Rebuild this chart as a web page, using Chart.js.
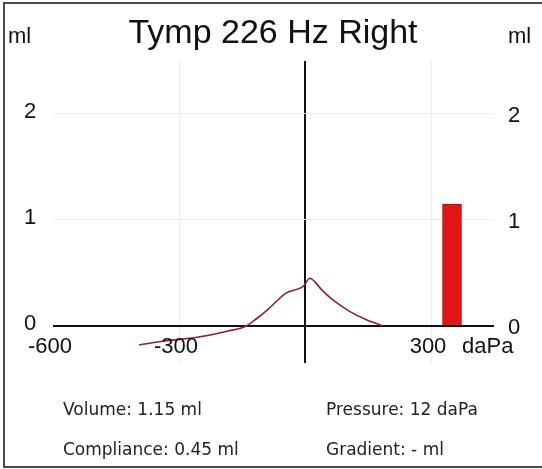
<!DOCTYPE html>
<html>
<head>
<meta charset="utf-8">
<script src="https://cdn.jsdelivr.net/npm/chart.js@4.4.1/dist/chart.umd.min.js"></script>
<style>
  html, body { margin: 0; background: #fff; overflow: hidden; }
  .marco {
    position: absolute; left: 3px; top: 2px;
    width: 539px; height: 466px;
    border: 2px solid #4a4a4a; border-right: none;
    box-sizing: border-box;
  }
  #tymp { position: absolute; left: 0; top: 0; }
</style>
</head>
<body>
<div class="marco"></div>
<canvas id="tymp" width="542" height="469"></canvas>
<script>
// curva del timpanograma (daPa / ml)
const pressure = [-395, -330, -260, -185, -140, -115, -90, -45, -5, 12, 20, 40, 65, 105, 145, 185];
const compliance = [-0.18, -0.14, -0.11, -0.05, 0, 0.07, 0.15, 0.31, 0.37, 0.45, 0.43, 0.34, 0.25, 0.14, 0.06, 0.0];

// barra de volumen
const volumePressure = [350];
const volumeValue = [1.15];

const xTickValues = [-600, -300, 300];
const xTickLabels = ['-600', '-300', '300'];
const yTickValues = [0, 1, 2];
const yTickLabels = ['0', '1', '2'];
const gridX = [-300, 0, 300];
const gridY = [0, 1, 2];

const title = 'Tymp 226 Hz Right';
const infoLeft = ['Volume: 1.15 ml', 'Compliance: 0.45 ml'];
const infoRight = ['Pressure: 12 daPa', 'Gradient: - ml'];

const curve = pressure.map((p, i) => ({ x: p, y: compliance[i] }));
const bars = volumePressure.map((p, i) => ({ x: p, y: volumeValue[i] }));

// textos dibujados sobre el canvas
const textPlugin = {
  id: 'tympText',
  afterDraw(chart) {
    const ctx = chart.ctx;
    const xs = chart.scales.x;
    const ys = chart.scales.y;
    ctx.save();
    ctx.fillStyle = '#111';
    ctx.textBaseline = 'middle';

    ctx.font = '34px "Liberation Sans", Arial, sans-serif';
    ctx.textAlign = 'center';
    ctx.fillText(title, 273, 34);

    ctx.font = '22px "Liberation Sans", Arial, sans-serif';
    ctx.textAlign = 'left';
    ctx.fillText('ml', 8, 37);
    ctx.fillText('ml', 508, 37);

    yTickValues.forEach((v, i) => {
      const py = ys.getPixelForValue(v);
      ctx.fillText(yTickLabels[i], 24, py - 2);
      ctx.fillText(yTickLabels[i], 508, py + 2);
    });

    ctx.textAlign = 'center';
    xTickValues.forEach((v, i) => {
      ctx.fillText(xTickLabels[i], xs.getPixelForValue(v) - 3, 347);
    });
    ctx.textAlign = 'left';
    ctx.fillText('daPa', 462, 347);

    ctx.font = '17px "DejaVu Sans", sans-serif';
    ctx.fillStyle = '#222';
    infoLeft.forEach((t, i) => ctx.fillText(t, 63, 411 + i * 40));
    infoRight.forEach((t, i) => ctx.fillText(t, 326, 411 + i * 40));
    ctx.restore();
  }
};

new Chart(document.getElementById('tymp'), {
  data: {
    datasets: [
      {
        type: 'line',
        data: curve,
        borderColor: '#8c2236',
        borderWidth: 1.6,
        pointRadius: 0,
        cubicInterpolationMode: 'monotone',
        fill: false
      },
      {
        type: 'bar',
        data: bars,
        backgroundColor: '#e01616',
        borderColor: '#a80f0f',
        borderWidth: 1,
        barThickness: 19
      }
    ]
  },
  options: {
    responsive: false,
    animation: false,
    layout: { padding: { left: 53, right: 48, top: 61, bottom: 106 } },
    plugins: { legend: { display: false }, tooltip: { enabled: false } },
    scales: {
      x: {
        type: 'linear',
        min: -600,
        max: 450,
        offset: false,
        afterBuildTicks: (s) => { s.ticks = gridX.map(v => ({ value: v })); },
        ticks: { display: false },
        border: { display: false },
        grid: {
          offset: false,
          drawTicks: false,
          color: (c) => c.tick && c.tick.value === 0 ? '#111' : '#eeeeee',
          lineWidth: (c) => c.tick && c.tick.value === 0 ? 2 : 1
        }
      },
      y: {
        type: 'linear',
        min: -0.35,
        max: 2.5,
        afterBuildTicks: (s) => { s.ticks = gridY.map(v => ({ value: v })); },
        ticks: { display: false },
        border: { display: false },
        grid: {
          drawTicks: false,
          color: (c) => c.tick && c.tick.value === 0 ? '#111' : '#eeeeee',
          lineWidth: (c) => c.tick && c.tick.value === 0 ? 2 : 1
        }
      }
    }
  },
  plugins: [textPlugin]
});
</script>
</body>
</html>
